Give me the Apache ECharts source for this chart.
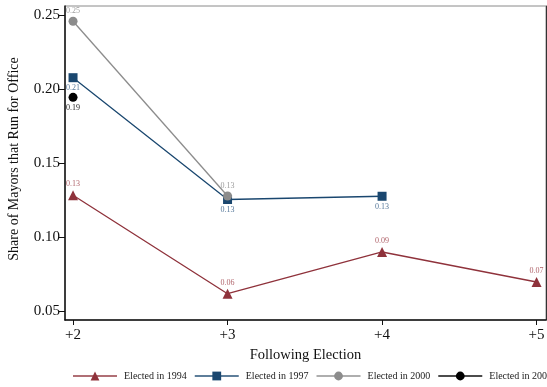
<!DOCTYPE html>
<html>
<head>
<meta charset="utf-8">
<script src="https://cdn.jsdelivr.net/npm/echarts@6/dist/echarts.min.js"></script>
<style>
  html, body { margin: 0; padding: 0; background: #fff; }
  #chart { width: 547px; height: 387px; }
</style>
</head>
<body>
<div id="chart"></div>
<script>
// Share of mayors who run again, by following election and cohort
var elections = [2, 3, 4, 5];
var electionLabels = ['+2', '+3', '+4', '+5'];
var yTicks = [0.05, 0.10, 0.15, 0.20, 0.25];

var elected1994 = [0.1284, 0.0618, 0.0900, 0.0697];
var elected1997 = [0.2079, 0.1255, 0.1277];
var elected2000 = [0.2461, 0.1279];
var elected2003 = [0.1946];

var seriesNames = ['Elected in 1994', 'Elected in 1997', 'Elected in 2000', 'Elected in 2003'];

var FONT = '"Liberation Serif", "DejaVu Serif", serif';

function pairs(values) {
  return values.map(function (v, i) { return [elections[i], v]; });
}

function makeSeries(name, values, color, labelColor, symbol, size, labelPos) {
  return {
    name: name,
    type: 'line',
    data: pairs(values),
    symbol: symbol,
    symbolSize: size,
    lineStyle: { color: color, width: 1.3 },
    itemStyle: { color: color },
    label: {
      show: true,
      position: labelPos,
      distance: 2,
      color: labelColor,
      fontFamily: FONT,
      fontSize: 8,
      formatter: function (p) { return p.value[1].toFixed(2); }
    },
    emphasis: { disabled: true },
    animation: false
  };
}

var chart = echarts.init(document.getElementById('chart'), null, { renderer: 'canvas' });

chart.setOption({
  backgroundColor: '#fff',
  animation: false,
  grid: {
    left: 65, right: 1, top: 6, bottom: 67,
    outerBoundsMode: 'none',
    containLabel: false,
    show: true, borderColor: '#8a8a8a', borderWidth: 1
  },
  xAxis: {
    type: 'value',
    min: 1.948, max: 5.061,
    name: 'Following Election',
    nameLocation: 'middle',
    nameGap: 24,
    nameTextStyle: { fontFamily: FONT, fontSize: 14.5, color: '#111' },
    axisLine: { show: true, onZero: false, lineStyle: { color: '#111', width: 1.5 } },
    axisTick: { show: true, length: 5, customValues: elections, lineStyle: { color: '#111' } },
    axisLabel: {
      customValues: elections,
      margin: 8,
      fontFamily: FONT, fontSize: 15, color: '#111',
      formatter: function (v) { return electionLabels[elections.indexOf(v)]; }
    },
    splitLine: { show: false }
  },
  yAxis: [{
    type: 'value',
    min: 0.044, max: 0.2564,
    name: 'Share of Mayors that Run for Office',
    nameLocation: 'middle',
    nameGap: 44,
    nameTextStyle: { fontFamily: FONT, fontSize: 14, color: '#111', padding: [0, 0, 0, 8] },
    axisLine: { show: true, onZero: false, lineStyle: { color: '#111', width: 1.5 } },
    axisTick: { show: true, length: 6, customValues: yTicks, lineStyle: { color: '#111' } },
    axisLabel: {
      customValues: yTicks,
      margin: 5,
      fontFamily: FONT, fontSize: 15, color: '#111',
      formatter: function (v) { return v.toFixed(2); }
    },
    splitLine: { show: false }
  }, {
    type: 'value',
    position: 'right',
    min: 0.044, max: 0.2564,
    axisLine: { show: true, onZero: false, lineStyle: { color: '#333', width: 1 } },
    axisTick: { show: false },
    axisLabel: { show: false },
    splitLine: { show: false }
  }],
  legend: {
    data: seriesNames,
    left: 72,
    top: 371,
    width: 700,
    padding: 0,
    orient: 'horizontal',
    itemWidth: 44,
    itemHeight: 11,
    itemGap: 7,
    lineStyle: { opacity: 0.7 },
    textStyle: { fontFamily: FONT, fontSize: 10, color: '#222', padding: [0, 0, 0, 2] }
  },
  series: [
    makeSeries(seriesNames[0], elected1994, '#8f323b', '#b0646b', 'triangle', 10, 'top'),
    makeSeries(seriesNames[1], elected1997, '#1a476f', '#56789a', 'rect', 9, 'bottom'),
    makeSeries(seriesNames[2], elected2000, '#8c8c8c', '#9c9c9c', 'circle', 9, 'top'),
    makeSeries(seriesNames[3], elected2003, '#000000', '#222222', 'circle', 9, 'bottom')
  ]
});
</script>
</body>
</html>
